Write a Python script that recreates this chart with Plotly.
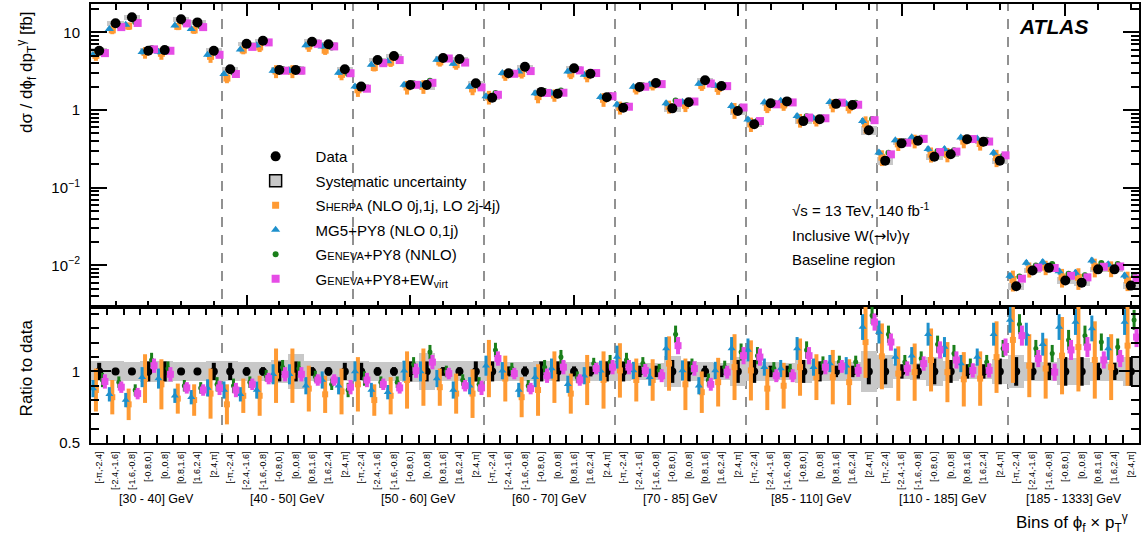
import numpy as np
import plotly.graph_objects as go

# ---------------- data ----------------
phi_labels = ["[-π,-2.4]", "[-2.4,-1.6]", "[-1.6,-0.8]", "[-0.8,0.]",
              "[0.,0.8]", "[0.8,1.6]", "[1.6,2.4]", "[2.4,π]"]
pt_bins = ["[30 - 40] GeV", "[40 - 50] GeV", "[50 - 60] GeV", "[60 - 70] GeV",
           "[70 - 85] GeV", "[85 - 110] GeV", "[110 - 185] GeV", "[185 - 1333] GeV"]

data_xsec = [5.8, 13.1, 15.6, 5.8, 5.9, 14.7, 13.4, 5.8,
             3.34, 7.13, 7.8, 3.27, 3.27, 7.57, 7.0, 3.34,
             2.0, 4.4, 4.96, 2.1, 2.1, 4.67, 4.53, 2.21,
             1.44, 2.97, 3.6, 1.71, 1.62, 3.44, 2.93, 1.46,
             1.07, 1.98, 2.22, 1.05, 1.26, 2.41, 2.04, 0.97,
             0.655, 1.22, 1.29, 0.72, 0.76, 1.2, 1.16, 0.55,
             0.223, 0.372, 0.403, 0.25, 0.27, 0.42, 0.39, 0.223,
             0.0054, 0.0086, 0.0093, 0.0064, 0.0060, 0.0089, 0.0089, 0.0055]
data_stat = [0.06, 0.025, 0.025, 0.07, 0.07, 0.025, 0.025, 0.06,
             0.06, 0.03, 0.03, 0.07, 0.07, 0.03, 0.03, 0.06,
             0.06, 0.03, 0.03, 0.07, 0.07, 0.03, 0.03, 0.07,
             0.07, 0.035, 0.035, 0.07, 0.07, 0.035, 0.035, 0.07,
             0.07, 0.04, 0.04, 0.08, 0.07, 0.04, 0.04, 0.08,
             0.08, 0.04, 0.04, 0.08, 0.07, 0.04, 0.04, 0.09,
             0.09, 0.05, 0.05, 0.09, 0.08, 0.05, 0.05, 0.09,
             0.10, 0.06, 0.06, 0.10, 0.10, 0.06, 0.06, 0.10]
data_syst = [0.07, 0.07, 0.065, 0.075, 0.075, 0.065, 0.065, 0.07,
             0.07, 0.065, 0.065, 0.08, 0.125, 0.07, 0.07, 0.07,
             0.07, 0.065, 0.065, 0.075, 0.13, 0.07, 0.07, 0.075,
             0.07, 0.065, 0.065, 0.07, 0.07, 0.065, 0.065, 0.07,
             0.065, 0.06, 0.06, 0.11, 0.07, 0.065, 0.06, 0.10,
             0.07, 0.065, 0.06, 0.08, 0.07, 0.07, 0.065, 0.145,
             0.115, 0.055, 0.06, 0.10, 0.07, 0.055, 0.055, 0.09,
             0.115, 0.065, 0.065, 0.095, 0.095, 0.065, 0.065, 0.10]

ratio_sherpa = [0.87, 0.82, 0.77, 0.95, 0.91, 0.81, 0.80, 0.845,
                0.77, 0.83, 0.83, 0.97, 0.97, 0.88, 0.84, 0.86,
                0.91, 0.80, 0.83, 0.94, 0.96, 0.89, 0.845, 0.845,
                1.02, 0.95, 0.82, 0.87, 0.96, 0.845, 0.94, 0.94,
                1.007, 0.94, 0.94, 1.055, 0.91, 0.855, 0.925, 1.03,
                1.007, 0.88, 0.90, 1.03, 0.96, 0.96, 0.925, 1.205,
                1.105, 0.985, 0.995, 1.08, 0.995, 0.945, 0.95, 1.10,
                1.22, 1.04, 1.02, 1.11, 1.17, 1.08, 1.03, 1.18]
err_sherpa = [0.15, 0.12, 0.11, 0.17, 0.175, 0.105, 0.11, 0.175,
              0.14, 0.12, 0.14, 0.19, 0.19, 0.16, 0.13, 0.16,
              0.19, 0.11, 0.13, 0.20, 0.20, 0.13, 0.14, 0.17,
              0.20, 0.16, 0.14, 0.18, 0.18, 0.14, 0.175, 0.20,
              0.19, 0.15, 0.145, 0.19, 0.18, 0.145, 0.17, 0.23,
              0.21, 0.15, 0.16, 0.20, 0.16, 0.19, 0.16, 0.25,
              0.23, 0.19, 0.20, 0.22, 0.21, 0.19, 0.19, 0.25,
              0.30, 0.22, 0.21, 0.27, 0.31, 0.27, 0.23, 0.28]

ratio_mg5 = [0.88, 0.84, 0.80, 0.96, 0.95, 0.83, 0.82, 0.885,
             0.87, 0.84, 0.87, 0.98, 0.98, 0.90, 0.94, 0.90,
             1.0, 0.87, 0.855, 1.005, 1.0, 0.95, 0.87, 0.90,
             1.04, 1.005, 0.87, 0.96, 1.02, 0.91, 0.97, 1.005,
             1.10, 1.007, 0.96, 1.16, 1.007, 0.90, 1.007, 1.16,
             1.15, 1.03, 1.02, 1.16, 1.03, 1.055, 1.04, 1.31,
             1.275, 1.10, 1.11, 1.26, 1.17, 1.055, 1.10, 1.26,
             1.36, 1.26, 1.19, 1.31, 1.345, 1.30, 1.16, 1.345]
err_mg5 = [0.06, 0.05, 0.05, 0.07, 0.07, 0.05, 0.05, 0.06,
           0.06, 0.05, 0.06, 0.07, 0.07, 0.06, 0.06, 0.06,
           0.07, 0.05, 0.05, 0.07, 0.07, 0.06, 0.06, 0.06,
           0.07, 0.06, 0.05, 0.07, 0.07, 0.06, 0.06, 0.07,
           0.08, 0.06, 0.06, 0.08, 0.07, 0.06, 0.06, 0.08,
           0.08, 0.06, 0.06, 0.08, 0.06, 0.06, 0.06, 0.09,
           0.08, 0.06, 0.06, 0.08, 0.07, 0.06, 0.06, 0.08,
           0.09, 0.08, 0.08, 0.09, 0.09, 0.09, 0.08, 0.09]

ratio_geneva = [0.94, 0.925, 0.87, 1.08, 1.02, 0.90, 0.885, 0.91,
                0.90, 0.925, 0.97, 1.03, 1.02, 0.965, 0.91, 0.87,
                0.95, 0.925, 0.925, 1.05, 1.135, 1.0, 0.94, 0.91,
                1.15, 1.02, 0.90, 1.03, 1.10, 0.96, 1.055, 1.065,
                1.08, 1.055, 1.007, 1.26, 1.04, 0.94, 1.03, 1.135,
                1.11, 1.02, 1.007, 1.15, 1.055, 1.065, 1.065, 1.39,
                1.26, 1.065, 1.09, 1.19, 1.125, 1.04, 1.065, 1.16,
                1.33, 1.16, 1.125, 1.22, 1.25, 1.205, 1.17, 1.36]
err_geneva = [0.05, 0.04, 0.04, 0.05, 0.05, 0.04, 0.04, 0.05,
              0.05, 0.04, 0.04, 0.05, 0.05, 0.04, 0.04, 0.05,
              0.05, 0.04, 0.04, 0.05, 0.05, 0.04, 0.04, 0.05,
              0.05, 0.04, 0.04, 0.05, 0.05, 0.04, 0.04, 0.05,
              0.05, 0.045, 0.045, 0.06, 0.05, 0.045, 0.045, 0.06,
              0.06, 0.045, 0.045, 0.06, 0.05, 0.045, 0.045, 0.06,
              0.06, 0.05, 0.05, 0.06, 0.06, 0.05, 0.05, 0.06,
              0.07, 0.06, 0.06, 0.07, 0.07, 0.06, 0.06, 0.07]

ratio_ew = [0.93, 0.89, 0.845, 1.04, 0.98, 0.885, 0.87, 0.885,
            0.87, 0.91, 0.95, 0.98, 0.98, 0.94, 0.94, 0.89,
            0.94, 0.91, 0.885, 1.005, 1.065, 0.985, 0.90, 0.885,
            1.09, 0.985, 0.88, 0.97, 1.03, 0.94, 1.02, 1.03,
            1.03, 1.007, 0.97, 1.18, 1.02, 0.91, 0.995, 1.11,
            1.10, 0.97, 0.97, 1.11, 1.03, 1.035, 1.007, 1.345,
            1.205, 1.02, 1.055, 1.15, 1.08, 1.007, 1.007, 1.17,
            1.25, 1.09, 0.995, 1.15, 1.17, 1.08, 1.09, 1.24]
err_ew = [0.05, 0.04, 0.04, 0.05, 0.05, 0.04, 0.04, 0.05,
          0.05, 0.04, 0.04, 0.05, 0.05, 0.04, 0.04, 0.05,
          0.05, 0.04, 0.04, 0.05, 0.05, 0.04, 0.04, 0.05,
          0.05, 0.04, 0.04, 0.05, 0.05, 0.04, 0.04, 0.05,
          0.05, 0.045, 0.045, 0.06, 0.05, 0.045, 0.045, 0.06,
          0.06, 0.045, 0.045, 0.06, 0.05, 0.045, 0.045, 0.06,
          0.06, 0.05, 0.05, 0.06, 0.06, 0.05, 0.05, 0.06,
          0.07, 0.06, 0.06, 0.07, 0.07, 0.06, 0.06, 0.07]

# ---------------- styling ----------------
FONT = "Liberation Sans, Arial, Helvetica, sans-serif"
C_SHERPA = "#ff9a33"
C_MG5 = "#1e90cc"
C_GEN = "#1a7f1a"
C_EW = "#e64ce6"
C_SYST = "#c8c8c8"

n_phi = len(phi_labels)
n_bins = n_phi * len(pt_bins)
centers = np.arange(n_bins) + 0.5
d = np.array(data_xsec)
s = np.array(data_syst)
st = np.array(data_stat)

preds = [
    dict(name="S<span style='font-size:11px'>HERPA</span> (NLO 0j,1j, LO 2j-4j)",
         r=ratio_sherpa, e=err_sherpa, c=C_SHERPA, sym="square", size=7, th=4, off=-0.2, rank=3),
    dict(name="MG5+PY8 (NLO 0,1j)",
         r=ratio_mg5, e=err_mg5, c=C_MG5, sym="triangle-up", size=8, th=3, off=-0.38, rank=4),
    dict(name="G<span style='font-size:11px'>ENEVA</span>+PY8 (NNLO)",
         r=ratio_geneva, e=err_geneva, c=C_GEN, sym="circle", size=6, th=3, off=0.2, rank=5),
    dict(name="G<span style='font-size:11px'>ENEVA</span>+PY8+EW<sub>virt</sub>",
         r=ratio_ew, e=err_ew, c=C_EW, sym="square", size=8, th=4, off=0.35, rank=6),
]

fig = go.Figure()

# systematic boxes (top, log scale)
fig.add_trace(go.Bar(x=centers, y=d * 2 * s, base=d * (1 - s), width=1.0,
                     marker=dict(color=C_SYST, line=dict(width=0)),
                     xaxis="x", yaxis="y", showlegend=False, legendgroup="syst",
                     hoverinfo="skip"))
fig.add_trace(go.Bar(x=[None], y=[None], name="Systematic uncertainty",
                     marker=dict(color=C_SYST, line=dict(color="black", width=1.5)),
                     xaxis="x", yaxis="y", legendgroup="syst", legendrank=2))

for p in preds:
    r = np.array(p["r"]); e = np.array(p["e"])
    fig.add_trace(go.Scatter(
        x=centers + p["off"], y=d * r, mode="markers", name=p["name"],
        marker=dict(symbol=p["sym"], size=p["size"], color=p["c"]),
        error_y=dict(type="data", array=d * r * e, color=p["c"], thickness=p["th"], width=0),
        xaxis="x", yaxis="y", legendgroup=p["name"], legendrank=p["rank"]))

fig.add_trace(go.Scatter(
    x=centers, y=d, mode="markers", name="Data",
    marker=dict(symbol="circle", size=10, color="black"),
    error_y=dict(type="data", array=d * st, color="black", thickness=3, width=0),
    xaxis="x", yaxis="y", legendgroup="data", legendrank=1))

# ratio panel
fig.add_trace(go.Bar(x=centers, y=2 * s, base=1 - s, width=1.0,
                     marker=dict(color=C_SYST, line=dict(width=0)),
                     xaxis="x2", yaxis="y2", showlegend=False, legendgroup="syst",
                     hoverinfo="skip"))
fig.add_trace(go.Scatter(
    x=centers, y=np.ones(n_bins), mode="markers", showlegend=False,
    marker=dict(symbol="circle", size=8, color="black"),
    error_y=dict(type="data", array=st, color="black", thickness=4, width=0),
    xaxis="x2", yaxis="y2", legendgroup="data"))
for p in preds:
    fig.add_trace(go.Scatter(
        x=centers + p["off"], y=p["r"], mode="markers", showlegend=False,
        marker=dict(symbol=p["sym"], size=p["size"] - 1, color=p["c"]),
        error_y=dict(type="data", array=p["e"], color=p["c"], thickness=p["th"], width=0),
        xaxis="x2", yaxis="y2", legendgroup=p["name"]))

# ---------------- axes ----------------
split = 0.3098
bin_edges = list(range(1, n_bins))
top_major = [v + 0.5 for v in range(9, n_bins, 10)]
top_minor = [v + 0.5 for v in range(1, n_bins, 2) if v + 0.5 not in top_major]
log_minor = [m * 10.0 ** k for k in range(-3, 2) for m in range(2, 10)]

axis_common = dict(showline=True, linecolor="black", linewidth=2, mirror="ticks",
                   ticks="inside", tickcolor="black", tickwidth=2, showgrid=False,
                   zeroline=False, automargin=False)

fig.update_layout(
    width=1147, height=545,
    margin=dict(l=91, r=8, t=4, b=102, autoexpand=False),
    paper_bgcolor="white", plot_bgcolor="white",
    font=dict(family=FONT, color="black", size=15),
    barmode="overlay", bargap=0,
    xaxis=dict(domain=[0, 1], anchor="y", range=[0, n_bins], matches="x2",
               showticklabels=False, tickmode="array", tickvals=top_major, ticklen=12,
               minor=dict(tickmode="array", tickvals=top_minor, ticklen=6, ticks="inside",
                          tickcolor="black", tickwidth=2),
               **axis_common),
    yaxis=dict(domain=[split, 1], anchor="x", type="log", range=[-2.535, 1.364],
               tickmode="array", tickvals=[0.01, 0.1, 1, 10],
               ticktext=["10<sup>−2</sup>", "10<sup>−1</sup>", "1", "10"],
               ticklen=16, ticklabelstandoff=6, tickfont=dict(size=15),
               minor=dict(tickmode="array", tickvals=log_minor, ticklen=8, ticks="inside",
                          tickcolor="black", tickwidth=2),
               **axis_common),
    xaxis2=dict(domain=[0, 1], anchor="y2", range=[0, n_bins],
                tickmode="array", tickvals=list(centers),
                ticktext=phi_labels * len(pt_bins), ticklen=0, tickangle=-90,
                tickfont=dict(size=9), ticklabelstandoff=3,
                minor=dict(tickmode="array", tickvals=bin_edges, ticklen=8, ticks="inside",
                           tickcolor="black", tickwidth=2),
                **axis_common),
    yaxis2=dict(domain=[0, split], anchor="x2", range=[0.5, 1.45], autorange=False,
                tickmode="array", tickvals=[0.5, 1.0], ticktext=["0.5", "1"],
                ticklen=20, ticklabelstandoff=6, tickfont=dict(size=15),
                minor=dict(tickmode="array", tickvals=[0.6, 0.7, 0.8, 0.9, 1.1, 1.2, 1.3, 1.4],
                           ticklen=8, ticks="inside", tickcolor="black", tickwidth=2),
                **axis_common),
    legend=dict(x=0.138, y=0.69, xanchor="left", yanchor="top",
                bgcolor="rgba(0,0,0,0)", font=dict(size=15, family=FONT),
                traceorder="grouped", tracegroupgap=2, itemwidth=70),
    showlegend=True,
)

for k in range(1, len(pt_bins)):
    fig.add_shape(type="line", xref="x", yref="paper", x0=k * n_phi, x1=k * n_phi,
                  y0=0, y1=1, layer="below",
                  line=dict(color="#6e6e6e", width=1.5, dash="10px,8px"))

for k, lab in enumerate(pt_bins):
    fig.add_annotation(xref="x2", yref="paper", x=k * n_phi + n_phi / 2, y=-0.127,
                       text=lab, showarrow=False, font=dict(size=12.5, family=FONT),
                       xanchor="center", yanchor="middle")

fig.add_annotation(xref="paper", yref="paper", x=-0.062, y=0.845, textangle=-90,
                   text="dσ / dϕ<sub>f</sub> dp<sub>T</sub><sup>γ</sup> [fb]",
                   showarrow=False, font=dict(size=17, family=FONT),
                   xanchor="center", yanchor="middle")
fig.add_annotation(xref="paper", yref="paper", x=-0.062, y=0.17, textangle=-90,
                   text="Ratio to data", showarrow=False, font=dict(size=17, family=FONT),
                   xanchor="center", yanchor="middle")
fig.add_annotation(xref="paper", yref="paper", x=0.991, y=-0.182,
                   text="Bins of ϕ<sub>f</sub> × p<sub>T</sub><sup>γ</sup>",
                   showarrow=False, font=dict(size=17, family=FONT),
                   xanchor="right", yanchor="middle")

fig.add_annotation(xref="paper", yref="paper", x=0.953, y=0.948,
                   text="<b><i>ATLAS</i></b>", showarrow=False,
                   font=dict(size=21, family=FONT), xanchor="right", yanchor="middle")
for txt, yy in [("√s = 13 TeV, 140 fb<sup>-1</sup>", 0.531),
                ("Inclusive W(<span style='font-family:DejaVu Sans'>→</span>lν)γ", 0.4715),
                ("Baseline region", 0.417)]:
    fig.add_annotation(xref="paper", yref="paper", x=0.667, y=yy, text=txt,
                       showarrow=False, font=dict(size=15, family=FONT),
                       xanchor="left", yanchor="middle")

fig.write_html("out.html", config={"displayModeBar": False},
               post_script="document.body.style.margin='0';document.body.style.padding='0';")
